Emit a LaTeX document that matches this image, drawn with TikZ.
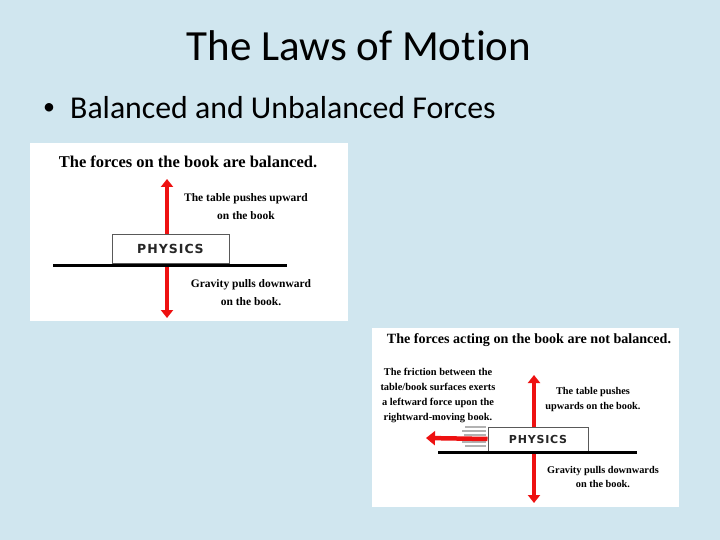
\documentclass[tikz,border=0pt]{standalone}
\usepackage{fontspec}
\setmainfont{Carlito}[Ligatures=NoCommon]
\newfontfamily\panelfont{Liberation Serif}
\newfontfamily\bookfont{DejaVu Sans}
\usetikzlibrary{arrows.meta}
\definecolor{slidebg}{HTML}{D0E6EF}
\definecolor{forcered}{HTML}{EE1111}
\begin{document}
\begin{tikzpicture}[x=1pt,y=-1pt,
  panel/.style={fill=white,draw=none},
  ptitle/.style={font=\panelfont\bfseries\fontsize{16.5}{18}\selectfont,inner sep=0pt,anchor=center},
  plabel/.style={font=\panelfont\bfseries\fontsize{11.5}{18}\selectfont,inner sep=0pt,align=center,anchor=center},
  book/.style={draw=gray!70!black,line width=1pt,fill=white,inner sep=0pt},
  booktext/.style={font=\bookfont\bfseries\fontsize{12.5}{14}\selectfont,text=black!85},
  table/.style={line width=3pt},
  force/.style={draw=forcered,line width=3.5pt,-{Triangle[width=12pt,length=8pt]}},
  bigforce/.style={draw=forcered,line width=4.5pt,-{Triangle[width=14pt,length=9pt]}},
  speed/.style={draw=gray!60,line width=1.2pt}
]
\useasboundingbox (0,0) rectangle (720,540);
\fill[slidebg] (0,0) rectangle (720,540);
% slide texts
\node[font=\fontsize{43}{48}\selectfont,anchor=center] (title) at (359,46) {The Laws of Motion};
\node[font=\fontsize{24}{28}\selectfont,anchor=center,inner sep=0pt] (bullet) at (49,109) {\textbullet};
\node[font=\fontsize{31.8}{34}\selectfont,anchor=west,inner sep=0pt] (btext) at (70,108) {Balanced and Unbalanced Forces};

% ---------- panel 1 ----------
\fill[panel] (30,143) rectangle (348,321);
\node[ptitle] (t1) at (188,162) {The forces on the book are balanced.};
\coordinate (c1) at (167,265);
\coordinate (up1) at (167,179);
\coordinate (dn1) at (167,318);
\draw[force] (c1) -- (up1);
\draw[force] (c1) -- (dn1);
\node[book,minimum width=117pt,minimum height=29pt] (b1) at (170.5,248.5) {};
\node[booktext] (bt1) at (b1) {P\kern1ptH\kern1ptY\kern1ptS\kern1ptI\kern1ptC\kern1ptS};
\coordinate (tl1) at (53,265);
\coordinate (tr1) at (287,265);
\draw[table] (tl1) -- (tr1);
\node[plabel] (u1) at (246,207) {The table pushes upward\\on the book};
\node[plabel] (g1) at (251,293) {Gravity pulls downward\\on the book.};

% ---------- panel 2 ----------
\fill[panel] (372,328) rectangle (679,507);
\node[ptitle,font=\panelfont\bfseries\fontsize{14.1}{16}\selectfont] (t2) at (529,340) {The forces acting on the book are not balanced.};
\coordinate (c2) at (534,452);
\coordinate (up2) at (534,375);
\coordinate (dn2) at (534,503);
\draw[force] (c2) -- (up2);
\draw[force] (c2) -- (dn2);
\node[book,minimum width=100pt,minimum height=24pt] (b2) at (538,439) {};
\node[booktext,font=\bookfont\bfseries\fontsize{11}{12}\selectfont] (bt2) at (b2) {P\kern0.8ptH\kern0.8ptY\kern0.8ptS\kern0.8ptI\kern0.8ptC\kern0.8ptS};
\coordinate (tl2) at (438,452);
\coordinate (tr2) at (637,452);
\draw[table] (tl2) -- (tr2);
\coordinate (lt) at (426,438);
\foreach \yy/\xa in {427/465,431/462,435/464,442/462,446/465}
  \draw[speed] (\xa,\yy) -- (486,\yy);
\draw[bigforce] (b2.west) -- (lt);
\node[plabel,font=\panelfont\bfseries\fontsize{10.4}{15}\selectfont] (f2) at (438,395.5) {The friction between the\\table/book surfaces exerts\\a leftward force upon the\\rightward-moving book.};
\node[plabel,font=\panelfont\bfseries\fontsize{10.3}{15}\selectfont] (u2) at (593,399.5) {The table pushes\\upwards on the book.};
\node[plabel,font=\panelfont\bfseries\fontsize{10.3}{14}\selectfont] (g2) at (603,477) {Gravity pulls downwards\\on the book.};
\end{tikzpicture}
\end{document}
